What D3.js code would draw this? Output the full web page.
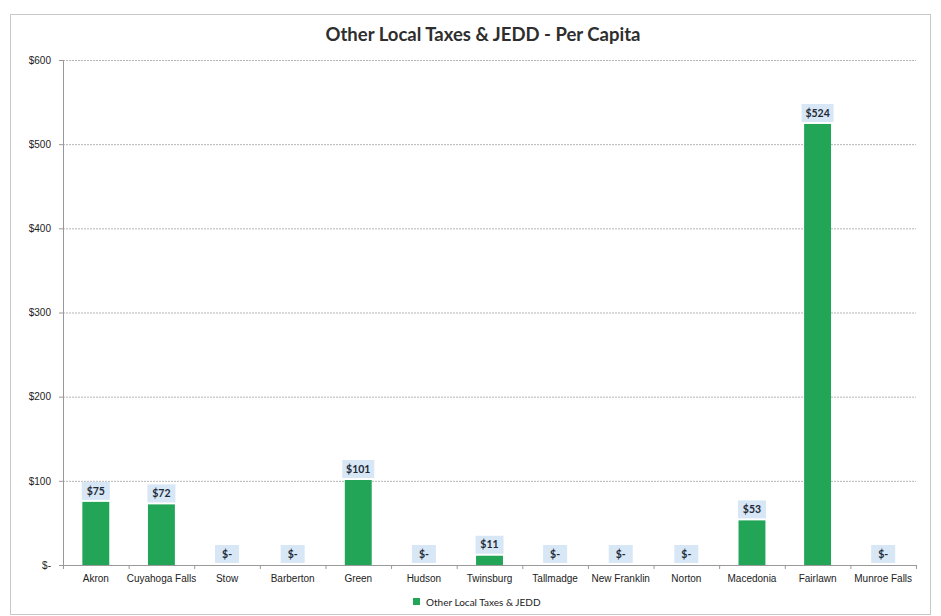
<!DOCTYPE html>
<html><head><meta charset="utf-8">
<script src="https://cdn.jsdelivr.net/npm/d3@7"></script>
<style>body{margin:0;background:#fff;}svg{display:block;font-family:Lato,"Open Sans",sans-serif;}</style>
</head><body><svg id="c" width="941" height="616"></svg>
<script>
const categories = ["Akron","Cuyahoga Falls","Stow","Barberton","Green","Hudson","Twinsburg","Tallmadge","New Franklin","Norton","Macedonia","Fairlawn","Munroe Falls"];
const values = [75,72,0,0,101,0,11,0,0,0,53,524,0];
const yTicks = [0,100,200,300,400,500,600];
const title = "Other Local Taxes & JEDD - Per Capita";
const seriesName = "Other Local Taxes & JEDD";

const svg = d3.select("#c");
const m = {l:63, r:25, t:60, b:51};
const W = 941, H = 616;
const fmt = v => v === 0 ? "$-" : "$" + v;

svg.append("rect").attr("x",10.5).attr("y",14.5).attr("width",920).attr("height",600)
  .attr("fill","#fff").attr("stroke","#c8c8c8");

const x = d3.scaleBand().domain(categories).range([m.l, W-m.r]).paddingInner(0.59).paddingOuter(0.295);
const y = d3.scaleLinear().domain([0,600]).range([H-m.b, m.t]);

// gridlines
svg.append("g").selectAll("line").data(yTicks.filter(d=>d>0)).join("line")
  .attr("x1",m.l).attr("x2",W-m.r).attr("y1",d=>y(d)+0.5).attr("y2",d=>y(d)+0.5)
  .attr("stroke","#b5b5b5").attr("stroke-dasharray","2,1");

// y axis
const ya = svg.append("g").attr("transform",`translate(${m.l},0)`)
  .call(d3.axisLeft(y).tickValues(yTicks).tickFormat(fmt).tickSize(4).tickPadding(8));
ya.select(".domain").attr("stroke","#999");
ya.selectAll(".tick line").attr("stroke","#999");
ya.selectAll("text").attr("font-size",10).attr("fill","#222");

// x axis
const step = x.step();
const xa = svg.append("g").attr("transform",`translate(0,${y(0)})`)
  .call(d3.axisBottom(x).tickSize(0).tickPadding(10));
xa.select(".domain").attr("stroke","#999");
xa.selectAll("text").attr("font-size",10).attr("fill","#222");
xa.append("g").selectAll("line").data(d3.range(categories.length+1)).join("line")
  .attr("x1",i=>x.range()[0]+i*step+0.5).attr("x2",i=>x.range()[0]+i*step+0.5)
  .attr("y1",0).attr("y2",4).attr("stroke","#999");

// bars
svg.append("g").selectAll("rect").data(values).join("rect")
  .attr("x",(d,i)=>x(categories[i])).attr("width",x.bandwidth())
  .attr("y",d=>y(d)).attr("height",d=>y(0)-y(d)).attr("fill","#22a557");

// labels
const lg = svg.append("g").selectAll("g").data(values).join("g")
  .attr("transform",(d,i)=>`translate(${x(categories[i])+x.bandwidth()/2},${y(d)-11})`);
lg.append("rect").attr("x",d=>d>=100?-16:(d===0?-12:-14)).attr("y",-9)
  .attr("width",d=>d>=100?32:(d===0?24:28)).attr("height",18).attr("fill","#d7e7f6");
lg.append("text").attr("text-anchor","middle").attr("dy","0.35em").attr("font-size",10.5)
  .attr("font-weight","bold").attr("fill","#1f2a36").text(fmt);

// title
svg.append("text").attr("x",483).attr("y",41).attr("text-anchor","middle")
  .attr("font-size",18.5).attr("font-weight","bold").attr("fill","#2e2e2e").text(title);

// legend
svg.append("rect").attr("x",413).attr("y",598).attr("width",7).attr("height",7).attr("fill","#22a557");
svg.append("text").attr("x",426).attr("y",602).attr("dy","0.35em").attr("font-size",10).attr("fill","#222").text(seriesName);
</script></body></html>
